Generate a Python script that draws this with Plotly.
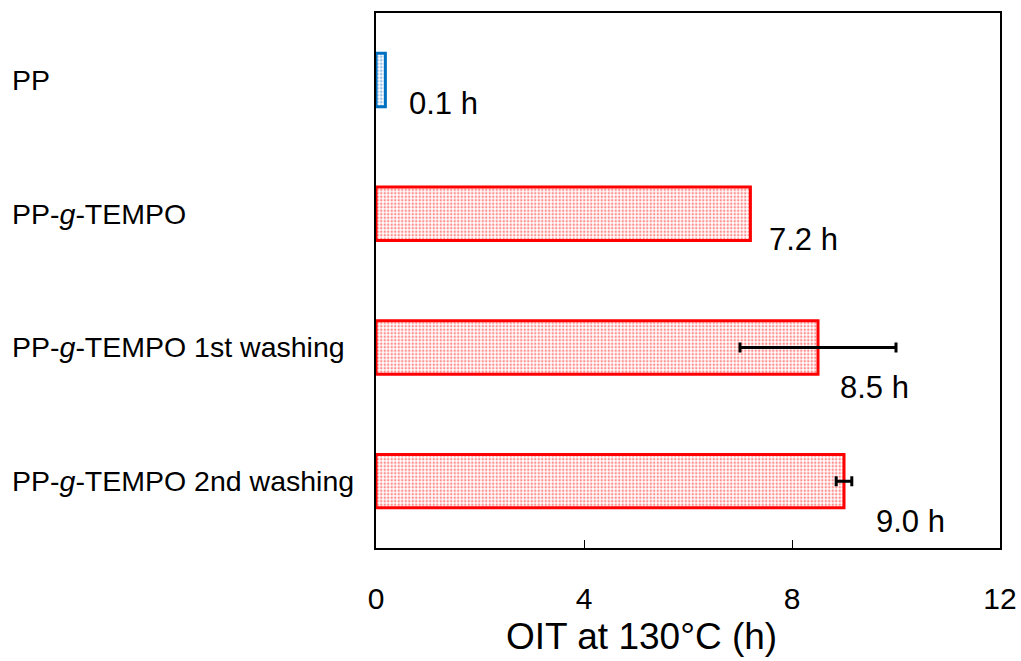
import plotly.graph_objects as go

categories = ["PP", "PP-<i>g</i>-TEMPO", "PP-<i>g</i>-TEMPO 1st washing", "PP-<i>g</i>-TEMPO 2nd washing"]
oit_hours = [0.18, 7.2, 8.5, 9.0]
value_labels = ["0.1 h", "7.2 h", "8.5 h", "9.0 h"]
err_categories = ["PP-<i>g</i>-TEMPO 1st washing", "PP-<i>g</i>-TEMPO 2nd washing"]
err_values = [8.5, 9.0]
err_plus = [1.5, 0.15]
err_minus = [1.5, 0.15]
x_ticks = [0, 4, 8, 12]
x_title = "OIT at 130°C (h)"

edge_colors = ["#0070c0", "#ff0000", "#ff0000", "#ff0000"]
dot_colors = ["#2a7fd0", "#ff2020", "#ff2020", "#ff2020"]
label_xshift = [22, 17, 20, 30]
label_yshift = [-24, -26, -40, -40]

FONT = "Liberation Sans"

fig = go.Figure()
fig.add_trace(go.Bar(
    y=categories, x=oit_hours, orientation="h", width=0.4,
    marker=dict(
        color="white",
        line=dict(color=edge_colors, width=3),
        pattern=dict(shape=".", fgcolor=dot_colors, bgcolor="white", size=3.5, solidity=0.4, fillmode="overlay"),
    ),
    showlegend=False, hoverinfo="skip",
))
fig.add_trace(go.Scatter(
    y=err_categories, x=err_values, mode="markers",
    marker=dict(size=1, color="rgba(0,0,0,0)"),
    error_x=dict(type="data", array=err_plus, arrayminus=err_minus, color="black", thickness=3, width=5),
    showlegend=False, hoverinfo="skip",
))

for i, (c, v, t) in enumerate(zip(categories, oit_hours, value_labels)):
    fig.add_annotation(x=v, y=c, xref="x", yref="y", text=t, showarrow=False,
                       xanchor="left", yanchor="middle", xshift=label_xshift[i], yshift=label_yshift[i],
                       font=dict(family=FONT, size=31, color="black"))
    fig.add_annotation(x=(10 - 376) / 624, y=c, xref="paper", yref="y", text=c, showarrow=False,
                       xanchor="left", yanchor="middle",
                       font=dict(family=FONT, size=28.5, color="black"))

# axis title, placed slightly left of the axis centre as in the reference
fig.add_annotation(x=(641 - 376) / 624, y=(548 - 636) / 535, xref="paper", yref="paper", text=x_title,
                   showarrow=False, xanchor="center", yanchor="middle",
                   font=dict(family=FONT, size=37, color="black"))

fig.update_layout(
    width=1021, height=661,
    margin=dict(l=376, r=21, t=13, b=113, autoexpand=False),
    paper_bgcolor="white", plot_bgcolor="white",
    font=dict(family=FONT, color="black"),
    xaxis=dict(range=[0, 12], tickvals=x_ticks, ticks="inside", ticklen=8, tickcolor="black", tickwidth=1,
               showline=True, mirror=True, linecolor="black", linewidth=1.5, showgrid=False, zeroline=False,
               tickfont=dict(family=FONT, size=30, color="black"), ticklabelstandoff=23,
               ticklabeloverflow="allow", automargin=False),
    yaxis=dict(categoryorder="array", categoryarray=categories, autorange="reversed",
               showticklabels=False, ticks="", showline=True, mirror=True, linecolor="black", linewidth=1.5,
               showgrid=False, zeroline=False, automargin=False),
)

fig.write_html("out.html", config={"displayModeBar": False},
               post_script="document.body.style.margin='0'; document.body.style.overflow='hidden';")
